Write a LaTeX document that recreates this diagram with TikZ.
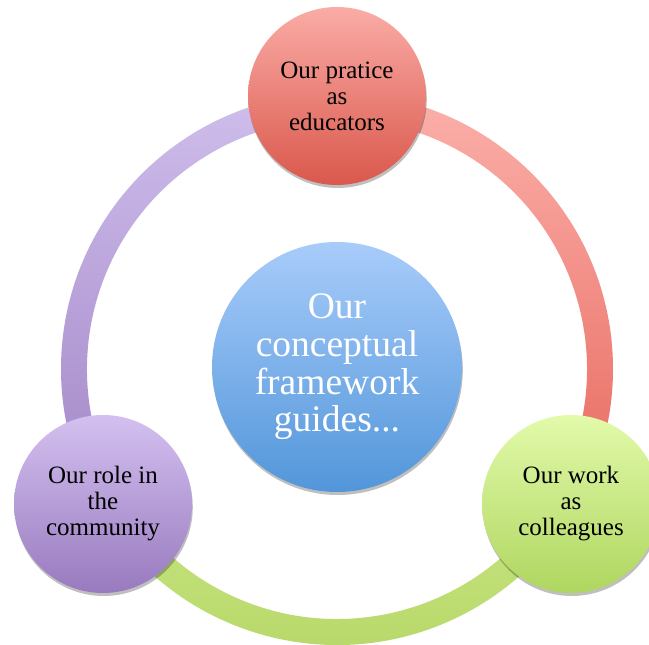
\documentclass[tikz,border=0pt]{standalone}
\usepackage{fontspec}
\setmainfont{Liberation Serif}
\usetikzlibrary{shadows}
\definecolor{redtop}{RGB}{250,172,166}
\definecolor{redbot}{RGB}{218,88,76}
\definecolor{bluetop}{RGB}{168,204,250}
\definecolor{bluebot}{RGB}{82,150,218}
\definecolor{greentop}{RGB}{226,250,170}
\definecolor{greenbot}{RGB}{175,214,96}
\definecolor{purptop}{RGB}{212,192,240}
\definecolor{purpbot}{RGB}{152,122,190}
\definecolor{ringR1}{RGB}{251,176,170}
\definecolor{ringR2}{RGB}{232,104,94}
\definecolor{ringL1}{RGB}{207,190,236}
\definecolor{ringL2}{RGB}{162,134,198}
\definecolor{ringG1}{RGB}{198,228,128}
\definecolor{ringG2}{RGB}{182,214,102}
\tikzset{
  bubble/.style={circle, inner sep=0pt, align=center,
    drop shadow={shadow xshift=0.8pt, shadow yshift=-3pt, opacity=0.25, fill=black}},
  small/.style={bubble, minimum size=178pt, text=black,
    font=\fontsize{25}{26}\selectfont},
  big/.style={bubble, minimum size=250pt, text=white,
    font=\fontsize{37.5}{37.7}\selectfont},
}
\begin{document}
\begin{tikzpicture}[x=1pt,y=1pt]
\clip (0,0) rectangle (649,645);
\fill[white] (0,0) rectangle (649,645);
\coordinate (C) at (337,276);
% ring segments
\shade[top color=ringR1, bottom color=ringR2]
  ([shift={(90:276)}]C) arc[start angle=90, end angle=-30, radius=276]
  -- ([shift={(-30:250)}]C) arc[start angle=-30, end angle=90, radius=250] -- cycle;
\shade[top color=ringL1, bottom color=ringL2]
  ([shift={(90:276)}]C) arc[start angle=90, end angle=210, radius=276]
  -- ([shift={(210:250)}]C) arc[start angle=210, end angle=90, radius=250] -- cycle;
\shade[top color=ringG1, bottom color=ringG2]
  ([shift={(210:276)}]C) arc[start angle=210, end angle=330, radius=276]
  -- ([shift={(330:250)}]C) arc[start angle=330, end angle=210, radius=250] -- cycle;
% circles
\node[big, top color=bluetop, bottom color=bluebot] (center) at (337,278)
  {Our\\conceptual\\framework\\guides...};
\node[small, top color=redtop, bottom color=redbot] (top) at (337,549)
  {Our pratice\\as\\educators};
\node[small, top color=purptop, bottom color=purpbot] (left) at (103,141)
  {Our role in\\the\\community};
\node[small, top color=greentop, bottom color=greenbot] (right) at (571,141)
  {Our work\\as\\colleagues};
\end{tikzpicture}
\end{document}
